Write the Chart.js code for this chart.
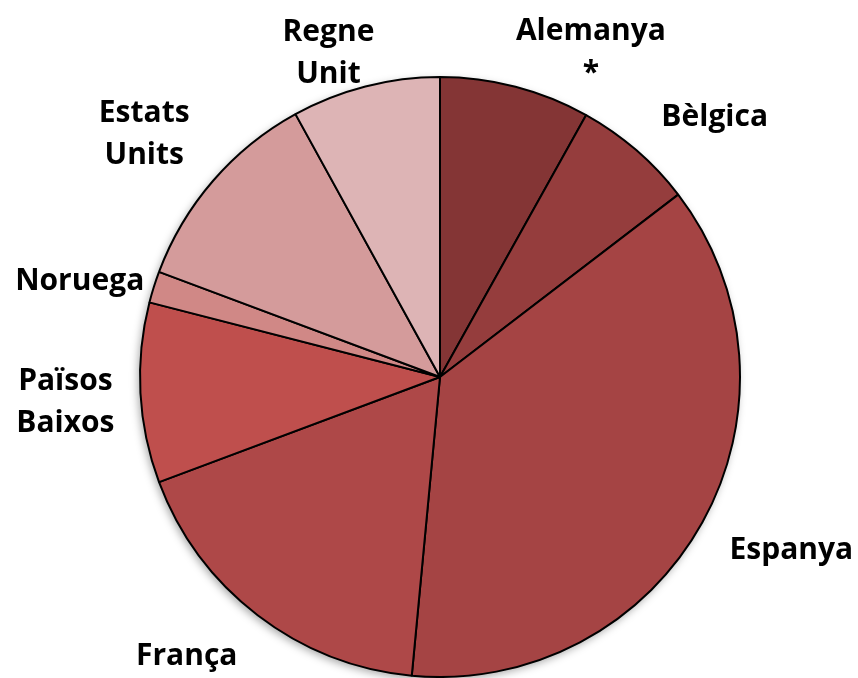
<!DOCTYPE html>
<html>
<head>
<meta charset="utf-8">
<script src="https://cdn.jsdelivr.net/npm/chart.js@4.4.1/dist/chart.umd.min.js"></script>
<style>
  html, body { margin: 0; padding: 0; background: #ffffff; }
  #wrap { width: 858px; height: 678px; position: relative; }
</style>
</head>
<body>
<div id="wrap"><canvas id="c" width="858" height="678"></canvas></div>
<script>
// Categories (clockwise from 12 o'clock)
const categories = ["Alemanya *", "Bèlgica", "Espanya", "França", "Països Baixos", "Noruega", "Estats Units", "Regne Unit"];
// Label text lines as shown on the chart
const labelLines = [["Alemanya", "*"], ["Bèlgica"], ["Espanya"], ["França"], ["Països", "Baixos"], ["Noruega"], ["Estats", "Units"], ["Regne", "Unit"]];
// Share (%)
const shares = [8.1, 6.5, 36.9, 17.8, 9.7, 1.7, 11.3, 8.0];
const sliceColors = ["#843535", "#953d3d", "#a54444", "#ae4848", "#bf4f4d", "#d08886", "#d49b9b", "#ddb4b5"];

// Nudges for label placement (text only)
const labelNudge = [[54, 16], [37, -9], [26, 13], [-34, 17], [-16, 7], [-3, 4], [-27, -12], [-23, 17]];

const shadowPlugin = {
  id: 'pieShadow',
  beforeDatasetsDraw(chart) {
    const arc = chart.getDatasetMeta(0).data[0];
    if (!arc) return;
    const ctx = chart.ctx;
    ctx.save();
    ctx.shadowColor = 'rgba(0,0,0,0.35)';
    ctx.shadowBlur = 8;
    ctx.shadowOffsetX = -2;
    ctx.shadowOffsetY = 3;
    ctx.beginPath();
    ctx.arc(arc.x, arc.y, arc.outerRadius, 0, Math.PI * 2);
    ctx.fillStyle = '#ffffff';
    ctx.fill();
    ctx.restore();
  }
};

const labelPlugin = {
  id: 'outsideLabels',
  afterDatasetsDraw(chart, args, opts) {
    const ctx = chart.ctx;
    const meta = chart.getDatasetMeta(0);
    const fontSize = opts.fontSize, lineH = opts.lineHeight;
    ctx.save();
    ctx.font = 'bold ' + fontSize + 'px ' + opts.family;
    ctx.fillStyle = '#000000';
    ctx.textAlign = 'center';
    ctx.textBaseline = 'middle';
    meta.data.forEach((arc, i) => {
      const lines = labelLines[i];
      const mid = (arc.startAngle + arc.endAngle) / 2;
      const dx = Math.cos(mid), dy = Math.sin(mid);
      const w = Math.max(...lines.map(l => ctx.measureText(l).width));
      const h = lines.length * lineH;
      const r = arc.outerRadius + opts.gap;
      const cx = arc.x + dx * r + dx * w / 2 + labelNudge[i][0];
      const cy = arc.y + dy * r + dy * h / 2 + labelNudge[i][1];
      lines.forEach((l, k) => {
        ctx.fillText(l, cx, cy - h / 2 + lineH * (k + 0.5));
      });
    });
    ctx.restore();
  }
};

new Chart(document.getElementById('c'), {
  type: 'pie',
  data: {
    labels: categories,
    datasets: [{
      data: shares,
      backgroundColor: sliceColors,
      borderColor: '#000000',
      borderWidth: 2,
      borderAlign: 'center',
      radius: 300
    }]
  },
  options: {
    responsive: false,
    animation: false,
    layout: { padding: { left: 22, right: 0, top: 76, bottom: 0 } },
    plugins: {
      legend: { display: false },
      tooltip: { enabled: false },
      outsideLabels: { fontSize: 30, lineHeight: 42, gap: 10, family: '"Open Sans", "Noto Sans", sans-serif' }
    }
  },
  plugins: [shadowPlugin, labelPlugin]
});
</script>
</body>
</html>
